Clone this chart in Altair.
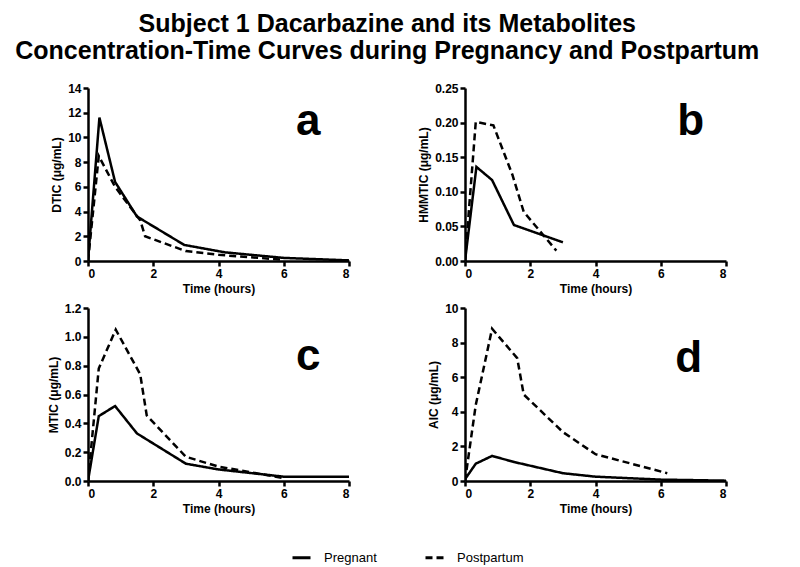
import altair as alt
import pandas as pd

# ---- data ----
groups = ["Pregnant", "Postpartum"]

# Panel a: DTIC
a_t_preg = [0, 0.35, 0.83, 1.5, 2.95, 4.2, 6, 8]
a_v_preg = [0, 11.6, 6.4, 3.6, 1.3, 0.7, 0.25, 0.05]
a_t_post = [0, 0.33, 0.83, 1.6, 1.75, 3, 4, 6]
a_v_post = [0, 8.5, 6.0, 3.3, 2.0, 0.8, 0.5, 0.1]

# Panel b: HMMTIC
b_t_preg = [0, 0.35, 0.83, 1.5, 3.0]
b_v_preg = [0, 0.136, 0.117, 0.052, 0.027]
b_t_post = [0, 0.33, 0.87, 1.45, 1.8, 2.8]
b_v_post = [0, 0.201, 0.196, 0.125, 0.071, 0.015]

# Panel c: MTIC
c_t_preg = [0, 0.33, 0.83, 1.5, 3.0, 4.0, 6, 8]
c_v_preg = [0, 0.45, 0.52, 0.33, 0.12, 0.08, 0.03, 0.03]
c_t_post = [0, 0.33, 0.85, 1.6, 1.8, 3.0, 4.0, 6]
c_v_post = [0, 0.78, 1.05, 0.74, 0.455, 0.168, 0.1, 0.02]

# Panel d: AIC
d_t_preg = [0, 0.33, 0.83, 1.5, 3.0, 4.0, 6, 8]
d_v_preg = [0.1, 1.0, 1.45, 1.1, 0.45, 0.25, 0.08, 0.02]
d_t_post = [0, 0.33, 0.83, 1.6, 1.8, 3.0, 4.0, 6.2]
d_v_post = [0, 4.4, 8.8, 7.1, 5.0, 2.83, 1.55, 0.45]

panel_letters = ["a", "b", "c", "d"]
letter_t = [6.75, 6.92, 6.75, 6.86]
letter_v = [11.25, 0.201, 0.86, 7.05]

y_titles = ["DTIC (μg/mL)", "HMMTIC (μg/mL)", "MTIC (μg/mL)", "AIC (μg/mL)"]
y_domains = [[0, 14], [0, 0.25], [0, 1.2], [0, 10]]
y_ticks = [[0, 2, 4, 6, 8, 10, 12, 14],
           [0, 0.05, 0.10, 0.15, 0.20, 0.25],
           [0, 0.2, 0.4, 0.6, 0.8, 1.0, 1.2],
           [0, 2, 4, 6, 8, 10]]
y_formats = ["d", ".2f", ".1f", "d"]
x_ticks = [0, 2, 4, 6, 8]

series = [
    (a_t_preg, a_v_preg, a_t_post, a_v_post),
    (b_t_preg, b_v_preg, b_t_post, b_v_post),
    (c_t_preg, c_v_preg, c_t_post, c_v_post),
    (d_t_preg, d_v_preg, d_t_post, d_v_post),
]

FONT = "Liberation Sans"
W, H = 261, 173


def panel(i):
    tp, vp, tq, vq = series[i]
    rows = []
    for k, (t, v) in enumerate(zip(tp, vp)):
        rows.append({"t": t, "v": v, "group": groups[0], "order": k})
    for k, (t, v) in enumerate(zip(tq, vq)):
        rows.append({"t": t, "v": v, "group": groups[1], "order": k})
    df = pd.DataFrame(rows)
    x = alt.X("t:Q", title="Time (hours)",
              scale=alt.Scale(domain=[0, 8], nice=False),
              axis=alt.Axis(values=x_ticks, format="d", labelOverlap=False))
    y = alt.Y("v:Q", title=y_titles[i],
              scale=alt.Scale(domain=y_domains[i], nice=False),
              axis=alt.Axis(values=y_ticks[i], format=y_formats[i], labelOverlap=False))
    lines = alt.Chart(df).mark_line(color="black", strokeWidth=2.5, clip=True).encode(
        x=x, y=y,
        order="order:Q",
        strokeDash=alt.StrokeDash(
            "group:N",
            scale=alt.Scale(domain=groups, range=[[1, 0], [7, 4]]),
            legend=alt.Legend(title=None, orient="none", legendX=203, legendY=459,
                              direction="horizontal",
                              symbolType="stroke", symbolStrokeWidth=3,
                              symbolSize=324, symbolStrokeColor="black",
                              labelFont=FONT, labelFontSize=13, labelColor="black",
                              columnPadding=42, labelOffset=12),
        ),
    )
    ldf = pd.DataFrame({"t": [letter_t[i]], "v": [letter_v[i]], "lab": [panel_letters[i]]})
    letter = alt.Chart(ldf).mark_text(font=FONT, fontSize=44, fontWeight="bold",
                                      color="black", baseline="middle", align="center").encode(
        x=x, y=y, text="lab:N")
    return alt.layer(lines, letter).properties(width=W, height=H)


chart = alt.concat(*[panel(i) for i in range(4)], columns=2,
                   spacing={"row": 8, "column": 66}).properties(
    title=alt.TitleParams(
        ["Subject 1 Dacarbazine and its Metabolites",
         "Concentration-Time Curves during Pregnancy and Postpartum"],
        font=FONT, fontSize=25, fontWeight="bold", anchor="middle",
        lineHeight=27, color="black", offset=18),
    padding={"left": 7, "top": 4, "right": 5, "bottom": 0},
).configure_view(stroke=None).configure_axis(
    grid=False, domainColor="black", domainWidth=2.5, tickColor="black",
    tickWidth=2.5, tickSize=5, labelFont=FONT, labelFontSize=12,
    labelFontWeight="bold", labelColor="black", titleFont=FONT,
    titleFontSize=12, titleFontWeight="bold", titleColor="black",
    titlePadding=4,
)

chart.save("out.html", embed_options={"renderer": "svg", "actions": False})
